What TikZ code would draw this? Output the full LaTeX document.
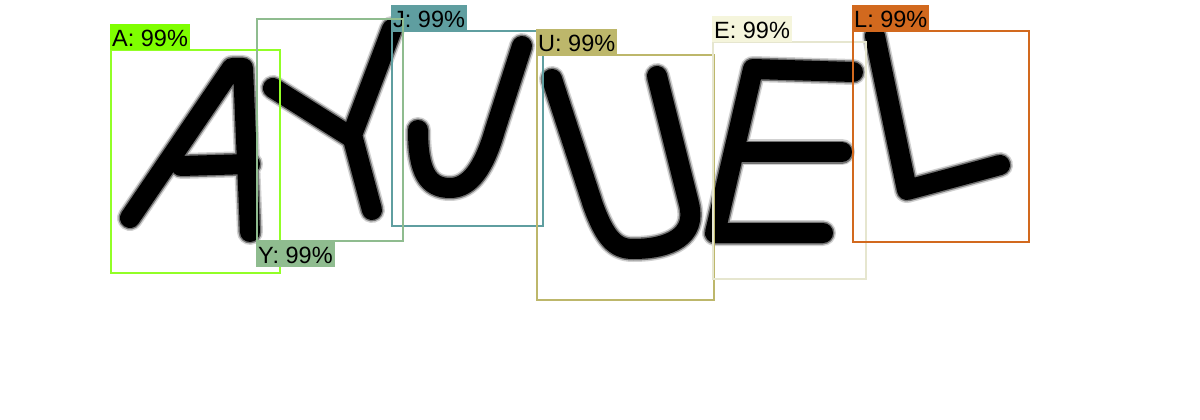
\documentclass[tikz,border=0pt]{standalone}
\usepackage{fontspec}
\setmainfont{Liberation Sans}
\definecolor{cA}{HTML}{7FFF00}
\definecolor{cY}{HTML}{8FBC8F}
\definecolor{cJ}{HTML}{5F9EA0}
\definecolor{cU}{HTML}{BDB76B}
\definecolor{cE}{HTML}{F5F5DC}
\definecolor{cL}{HTML}{D2691E}
\newcommand\allglyphs[1]{%
  % A
  \draw[#1] (130,218) -- (232,68) -- (243,68) -- (250,232);
  \draw[#1] (181,166) -- (250,164);
  % Y
  \draw[#1] (273,88) -- (351,137);
  \draw[#1] (392,29) -- (352,135) -- (372,210);
  % J
  \draw[#1] (522,46) -- (495,130) .. controls (484,168) and (470,188) .. (450,188) .. controls (428,188) and (418,172) .. (418,130);
  % U
  \draw[#1] (552,79) -- (593,205) .. controls (605,238) and (615,249) .. (633,249) .. controls (670,249) and (697,236) .. (689,204) -- (657,76);
  % E
  \draw[#1] (853,72) -- (753,69) -- (715,233) -- (823,233);
  \draw[#1] (737,152) -- (842,152);
  % L
  \draw[#1] (875,36) -- (907,190) -- (1000,165);
}
\begin{document}
\begin{tikzpicture}[x=1pt,y=-1pt,
  glyphhalo/.style={line width=26, black!18, line cap=round, line join=round},
  glyphmid/.style={line width=23, black!55, line cap=round, line join=round},
  glyphcore/.style={line width=20, black, line cap=round, line join=round},
  detbox/.style={line width=2},
  detlabel/.style={inner xsep=2, inner ysep=0, text height=22.5, text depth=3.5,
    font=\fontsize{23.5}{23.5}\selectfont, text=black}]
\useasboundingbox (0,0) rectangle (1200,420);
\fill[white] (0,0) rectangle (1200,420);
% ---- letters ----
\allglyphs{glyphhalo}
\allglyphs{glyphmid}
\allglyphs{glyphcore}
% ---- detections ----
\draw[detbox, cA!85!white] (111,50) rectangle (280,273);
\node[detlabel, fill=cA, anchor=south west] (labA) at (110,50) {A: 99\%};
\draw[detbox, cJ] (392,31) rectangle (543,226);
\node[detlabel, fill=cJ, anchor=south west] (labJ) at (391,31) {J: 99\%};
\draw[detbox, cY] (257,19) rectangle (403,241);
\node[detlabel, fill=cY, anchor=north west] (labY) at (256,241) {Y: 99\%};
\draw[detbox, cU] (537,55) rectangle (714,300);
\node[detlabel, fill=cU, anchor=south west] (labU) at (536,55) {U: 99\%};
\draw[detbox, cE!90!black!60!cE] (713,42) rectangle (866,279);
\node[detlabel, fill=cE, anchor=south west] (labE) at (712,42) {E: 99\%};
\draw[detbox, cL] (853,31) rectangle (1029,242);
\node[detlabel, fill=cL, anchor=south west] (labL) at (852,31) {L: 99\%};
\end{tikzpicture}
\end{document}
